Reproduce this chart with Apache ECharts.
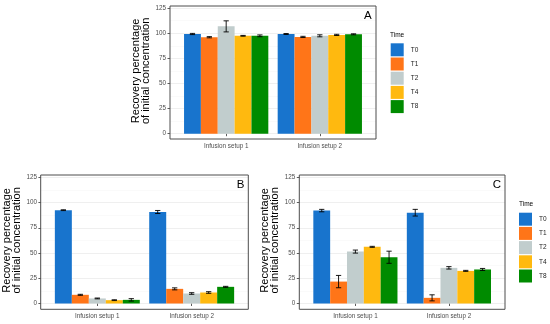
<!DOCTYPE html>
<html><head><meta charset="utf-8">
<script src="https://cdn.jsdelivr.net/npm/echarts@6/dist/echarts.min.js"></script>
<style>html,body{margin:0;padding:0;background:#fff}#c{width:550px;height:324px}</style>
</head><body><div id="c"></div>
<script>
// ---------------- data ----------------
const categories = ['Infusion setup 1', 'Infusion setup 2'];
const timeLabels = ['T0', 'T1', 'T2', 'T4', 'T8'];
const yTickMax = 125;
const yTickStep = 25;
const yAxisTitle = 'Recovery percentage\nof initial concentration';
const legendTitle = 'Time';

// rows = time points (T0,T1,T2,T4,T8), columns = setups
const aMeans = [[99.2, 99.2], [96.0, 96.3], [106.8, 97.4], [97.4, 98.3], [97.4, 98.9]];
const aErrs  = [[0.6, 0.5], [0.6, 0.6], [5.5, 1.0], [0.4, 0.6], [0.9, 0.5]];
const bMeans = [[92.4, 90.6], [8.6, 14.5], [5.0, 9.9], [3.3, 10.9], [3.6, 16.5]];
const bErrs  = [[0.4, 1.5], [0.5, 1.0], [0.4, 0.8], [0.4, 0.8], [1.2, 0.5]];
const cMeans = [[92.0, 89.9], [21.7, 5.6], [51.4, 35.3], [56.1, 32.3], [45.8, 33.7]];
const cErrs  = [[1.2, 3.3], [6.1, 3.0], [1.5, 1.2], [0.5, 0.5], [6.0, 1.0]];

// ---------------- styling / layout ----------------
const colors = ['#1874CD', '#FF7518', '#C1CDCD', '#FFB90F', '#008B00'];
const panels = [
  { label: 'A', means: aMeans, errs: aErrs, box: { left: 170, top: 6, width: 206, height: 133 }, zeroY: 133.7, ppu: 1.005, labelPos: [368, 16] },
  { label: 'B', means: bMeans, errs: bErrs, box: { left: 40.7, top: 175, width: 207.6, height: 134.3 }, zeroY: 303.5, ppu: 1.01, labelPos: [240.7, 185] },
  { label: 'C', means: cMeans, errs: cErrs, box: { left: 299.3, top: 175, width: 205.7, height: 134.3 }, zeroY: 303.5, ppu: 1.01, labelPos: [496.7, 185] }
];
const legends = [{ left: 390.7, top: 43.3, titleX: 390, titleY: 36 }, { left: 519, top: 212.7, titleX: 519, titleY: 205 }];

const grid = [], xAxis = [], yAxis = [], series = [], graphic = [];
const FONT = 'Liberation Sans, Arial, sans-serif';

panels.forEach((p, k) => {
  const b = p.box;
  const axTop = p.zeroY - yTickMax * p.ppu;
  const axH = yTickMax * p.ppu;
  const unit = b.width / 2.2;
  const dLeft = b.left + unit * 0.1;
  const dWidth = unit * 2;
  const boxBottom = b.top + b.height;
  const gBox = 3 * k, gAx = 3 * k + 1, gData = 3 * k + 2;

  grid.push({ left: b.left, top: b.top, width: b.width, height: b.height, show: true, borderColor: '#4d4d4d', borderWidth: 1, backgroundColor: 'transparent', z: 5 });
  xAxis.push({ gridIndex: gBox, type: 'value', show: false });
  yAxis.push({ gridIndex: gBox, type: 'value', show: false });

  grid.push({ left: b.left, top: axTop, width: b.width, height: axH });
  xAxis.push({ gridIndex: gAx, type: 'value', show: false, min: 0, max: 1 });
  yAxis.push({
    gridIndex: gAx, type: 'value', min: 0, max: yTickMax, interval: yTickStep,
    axisLine: { show: false },
    axisTick: { show: true, length: 2.5, lineStyle: { color: '#333', width: 0.8 } },
    axisLabel: { fontSize: 6.3, color: '#4d4d4d', margin: 4, fontFamily: FONT },
    splitLine: { show: true, lineStyle: { color: '#ebebeb', width: 0.8 } },
    minorTick: { show: false, splitNumber: 2 },
    minorSplitLine: { show: true, lineStyle: { color: '#f5f5f5', width: 0.5 } },
    name: yAxisTitle, nameLocation: 'middle', nameRotate: 90, nameGap: 11,
    nameTextStyle: { fontSize: 11, lineHeight: 10.5, color: '#000', fontFamily: FONT }
  });

  grid.push({ left: dLeft, top: axTop, width: dWidth, height: axH });
  xAxis.push({
    gridIndex: gData, type: 'category', data: categories, offset: boxBottom - (axTop + axH),
    axisLine: { show: false },
    axisTick: { show: true, alignWithLabel: true, length: 2.5, lineStyle: { color: '#333', width: 0.8 } },
    axisLabel: { fontSize: 6.3, color: '#4d4d4d', margin: 4, fontFamily: FONT },
    splitLine: { show: false }
  });
  yAxis.push({ gridIndex: gData, type: 'value', min: 0, max: yTickMax, show: false, splitLine: { show: false } });

  timeLabels.forEach((t, ti) => {
    series.push({
      type: 'bar', name: t, xAxisIndex: gData, yAxisIndex: gData,
      data: p.means[ti], itemStyle: { color: colors[ti] },
      barGap: '0%', barCategoryGap: '10%', silent: true
    });
  });
  timeLabels.forEach((t, ti) => {
    series.push({
      type: 'custom', name: t + ' error', xAxisIndex: gData, yAxisIndex: gData, z: 4, silent: true,
      data: categories.map((c, i) => [i, p.means[ti][i], p.errs[ti][i]]),
      renderItem: (params, api) => {
        const xi = api.value(0), v = api.value(1), e = api.value(2);
        const band = api.size([1, 0])[0];
        const cx = api.coord([xi, v])[0] + (ti - 2) * band * 0.18;
        const yt = api.coord([xi, v + e])[1];
        const yb = api.coord([xi, v - e])[1];
        const hw = band * 0.028;
        const st = { stroke: '#000', lineWidth: 0.9 };
        return { type: 'group', children: [
          { type: 'line', shape: { x1: cx, y1: yt, x2: cx, y2: yb }, style: st },
          { type: 'line', shape: { x1: cx - hw, y1: yt, x2: cx + hw, y2: yt }, style: st },
          { type: 'line', shape: { x1: cx - hw, y1: yb, x2: cx + hw, y2: yb }, style: st }
        ] };
      }
    });
  });

  graphic.push({ type: 'text', left: p.labelPos[0] - 4, top: p.labelPos[1] - 6, z: 10,
    style: { text: p.label, fontSize: 11.5, fill: '#000', font: '11.5px ' + FONT } });
});

const legend = legends.map(l => ({
  data: timeLabels, orient: 'vertical', left: l.left, top: l.top, padding: 0,
  itemWidth: 13, itemHeight: 13, itemGap: 1.2, icon: 'rect', selectedMode: false,
  textStyle: { fontSize: 6.5, color: '#1a1a1a', fontFamily: FONT, padding: [0, 0, 0, 2] }
}));
legends.forEach(l => {
  graphic.push({ type: 'text', left: l.titleX, top: l.titleY - 4, style: { text: legendTitle, font: '6.5px ' + FONT, fill: '#000' } });
});

const chart = echarts.init(document.getElementById('c'), null, { renderer: 'canvas' });
chart.setOption({
  backgroundColor: '#fff', animation: false,
  grid, xAxis, yAxis, series, legend, graphic
});
</script></body></html>
